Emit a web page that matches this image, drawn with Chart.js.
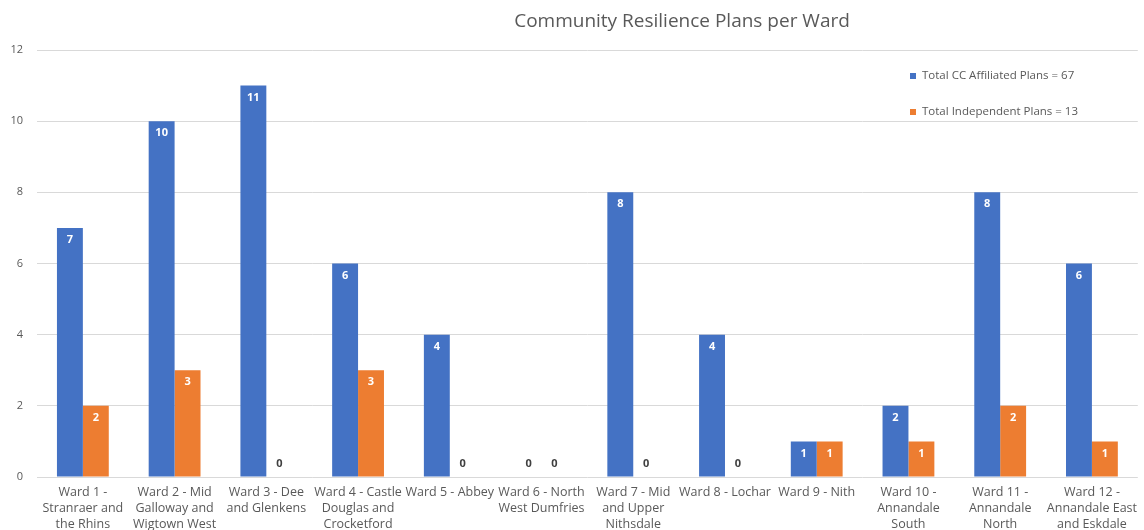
<!DOCTYPE html>
<html>
<head>
<meta charset="utf-8">
<script src="https://cdn.jsdelivr.net/npm/chart.js@4"></script>
<style>
  html, body { margin: 0; padding: 0; background: #fff; }
  #wrap { width: 1144px; height: 530px; }
</style>
</head>
<body>
<div id="wrap"><canvas id="chart" width="1144" height="530"></canvas></div>
<script>
// ward names, wrapped the way the original axis shows them
var wards = [
    ['Ward 1 -', 'Stranraer and', 'the Rhins'],
    ['Ward 2 - Mid', 'Galloway and', 'Wigtown West'],
    ['Ward 3 - Dee', 'and Glenkens'],
    ['Ward 4 - Castle', 'Douglas and', 'Crocketford'],
    ['Ward 5 - Abbey'],
    ['Ward 6 - North', 'West Dumfries'],
    ['Ward 7 - Mid', 'and Upper', 'Nithsdale'],
    ['Ward 8 - Lochar'],
    ['Ward 9 - Nith'],
    ['Ward 10 -', 'Annandale', 'South'],
    ['Ward 11 -', 'Annandale', 'North'],
    ['Ward 12 -', 'Annandale East', 'and Eskdale']
];
var ccPlans = [7, 10, 11, 6, 4, 0, 8, 4, 1, 2, 8, 6];
var independentPlans = [2, 3, 0, 3, 0, 0, 0, 0, 1, 1, 2, 1];
var yTicks = [0, 2, 4, 6, 8, 10, 12];

var chartTitle = 'Community Resilience Plans per Ward';
var FONT = '"Open Sans", "Noto Sans", sans-serif';

// value labels: white inside the bar top, dark just above the axis for zeros
var valueLabels = {
    id: 'valueLabels',
    afterDatasetsDraw: function (chart) {
        var ctx = chart.ctx;
        ctx.save();
        ctx.font = 'bold 11px ' + FONT;
        ctx.textAlign = 'center';
        ctx.textBaseline = 'middle';
        chart.data.datasets.forEach(function (ds, i) {
            var meta = chart.getDatasetMeta(i);
            meta.data.forEach(function (bar, j) {
                var v = ds.data[j];
                if (v === 0) {
                    ctx.fillStyle = '#404040';
                    ctx.fillText('0', bar.x, bar.base - 13);
                } else {
                    ctx.fillStyle = '#ffffff';
                    ctx.fillText(String(v), bar.x, bar.y + 12);
                }
            });
        });
        ctx.restore();
    }
};

// title and legend drawn where the original has them (off-centre / top right)
var decorations = {
    id: 'decorations',
    afterDraw: function (chart) {
        var ctx = chart.ctx;
        ctx.save();
        ctx.fillStyle = '#595959';
        ctx.font = '19px ' + FONT;
        ctx.textAlign = 'center';
        ctx.textBaseline = 'middle';
        ctx.fillText(chartTitle, 682, 22);

        ctx.font = '11.5px ' + FONT;
        ctx.textAlign = 'left';
        chart.data.datasets.forEach(function (ds, i) {
            var y = 76 + i * 36;
            ctx.fillStyle = ds.backgroundColor;
            ctx.fillRect(910, y - 3, 6, 6);
            ctx.fillStyle = '#595959';
            ctx.fillText(ds.label, 922, y);
        });
        ctx.restore();
    }
};

var myChart = new Chart(document.getElementById('chart'), {
    type: 'bar',
    data: {
        labels: wards,
        datasets: [{
            label: 'Total CC Affiliated Plans = 67',
            data: ccPlans,
            backgroundColor: '#4472C4',
            categoryPercentage: 0.565,
            barPercentage: 1.0
        }, {
            label: 'Total Independent Plans = 13',
            data: independentPlans,
            backgroundColor: '#ED7D31',
            categoryPercentage: 0.565,
            barPercentage: 1.0
        }]
    },
    options: {
        responsive: false,
        animation: false,
        layout: {
            padding: { top: 50, left: 8, right: -2, bottom: 0 }
        },
        scales: {
            x: {
                grid: { display: false, drawTicks: false },
                border: { display: false },
                afterFit: function (axis) { axis.height = 53; },
                ticks: {
                    autoSkip: false,
                    maxRotation: 0,
                    padding: 7,
                    color: '#595959',
                    font: { family: FONT, size: 12.5, lineHeight: 1.28 }
                }
            },
            y: {
                min: 0,
                max: 12,
                afterBuildTicks: function (axis) {
                    axis.ticks = yTicks.map(function (v) { return { value: v }; });
                },
                afterFit: function (axis) { axis.width = 29; },
                grid: { color: '#d9d9d9', drawTicks: false },
                border: { display: false },
                ticks: {
                    padding: 14,
                    color: '#595959',
                    font: { family: FONT, size: 11 }
                }
            }
        },
        plugins: {
            legend: { display: false },
            title: { display: false },
            tooltip: { enabled: false }
        }
    },
    plugins: [valueLabels, decorations]
});
</script>
</body>
</html>
